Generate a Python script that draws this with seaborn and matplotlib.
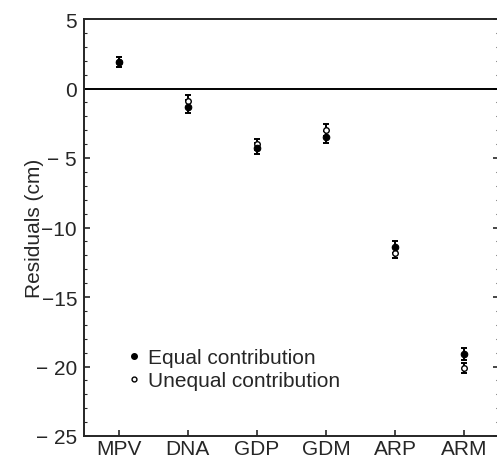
import numpy as np
import pandas as pd
import matplotlib
matplotlib.use("Agg")
import matplotlib.pyplot as plt
from matplotlib.lines import Line2D
from matplotlib.ticker import MultipleLocator
import seaborn as sns

# data
categories = ["MPV", "DNA", "GDP", "GDM", "ARP", "ARM"]
equal_vals = [1.9, -1.3, -4.3, -3.5, -11.4, -19.1]
equal_err = [0.35, 0.45, 0.4, 0.45, 0.4, 0.4]
unequal_vals = [1.9, -0.9, -4.0, -3.0, -11.8, -20.1]
unequal_err = [0.35, 0.4, 0.4, 0.45, 0.4, 0.35]
ytick_vals = [5, 0, -5, -10, -15, -20, -25]
ytick_labels = ["5", "0", "\u2212 5", "\u221210", "\u221215", "\u2212 20", "\u2212 25"]

df = pd.DataFrame({
    "Method": categories * 2,
    "Residual": equal_vals + unequal_vals,
    "Err": equal_err + unequal_err,
    "Group": ["Equal contribution"] * 6 + ["Unequal contribution"] * 6,
})
df["pos"] = df["Method"].map({c: i for i, c in enumerate(categories)})

sns.set_style("ticks")
plt.rcParams["font.family"] = ["Liberation Sans", "DejaVu Sans"]

fig = plt.figure(figsize=(4.97, 4.6), dpi=100)
ax = fig.add_axes([84 / 497, 23 / 460, 415 / 497, 417 / 460])

ax.axhline(0, color="black", lw=1.4, zorder=1)

eq = df[df["Group"] == "Equal contribution"]
uneq = df[df["Group"] == "Unequal contribution"]
ax.errorbar(eq["pos"], eq["Residual"], yerr=eq["Err"], fmt="none",
            ecolor="black", elinewidth=1.4, capsize=2.5, capthick=1.4, zorder=2)
ax.errorbar(uneq["pos"], uneq["Residual"], yerr=uneq["Err"], fmt="none",
            ecolor="black", elinewidth=1.4, capsize=2.5, capthick=1.4, zorder=2)

# open circles first, filled ones drawn on top (MPV overlaps)
sns.scatterplot(data=uneq, x="pos", y="Residual", ax=ax, facecolor="white",
                s=16, marker="o", edgecolor="black", linewidth=1.0, zorder=3)
sns.scatterplot(data=eq, x="pos", y="Residual", ax=ax, color="black",
                s=22, marker="o", edgecolor="black", linewidth=0.8, zorder=4)

ax.set_xlim(-0.5, 5.5)
ax.set_ylim(-25, 5)
ax.set_xticks(range(len(categories)))
ax.set_xticklabels(categories, fontsize=15)
ax.set_yticks(ytick_vals)
ax.set_yticklabels(ytick_labels, fontsize=15)
ax.yaxis.set_minor_locator(MultipleLocator(1))
ax.tick_params(axis="y", which="both", direction="in", right=True, left=True, pad=5)
ax.tick_params(axis="y", which="major", length=4, width=1.2)
ax.tick_params(axis="y", which="minor", length=2, width=0.8)
ax.tick_params(axis="x", direction="in", length=4, width=1.2, pad=2)
ax.set_xlabel("")
ax.set_ylabel("Residuals (cm)", fontsize=15)
ax.yaxis.set_label_coords(-0.097, 0.5)

for side in ["left", "bottom", "top"]:
    ax.spines[side].set_linewidth(1.4)
ax.spines["right"].set_visible(False)

handles = [
    Line2D([], [], marker="o", ls="none", color="black", markersize=4),
    Line2D([], [], marker="o", ls="none", markerfacecolor="white",
           markeredgecolor="black", markersize=3.5, markeredgewidth=1.0),
]
ax.legend(handles, ["Equal contribution", "Unequal contribution"],
          loc="center left", bbox_to_anchor=(0.06, 0.16), frameon=False,
          fontsize=15, handlelength=0.6, handletextpad=0.4, labelspacing=0.2)

fig.savefig("out.png", dpi=100)
